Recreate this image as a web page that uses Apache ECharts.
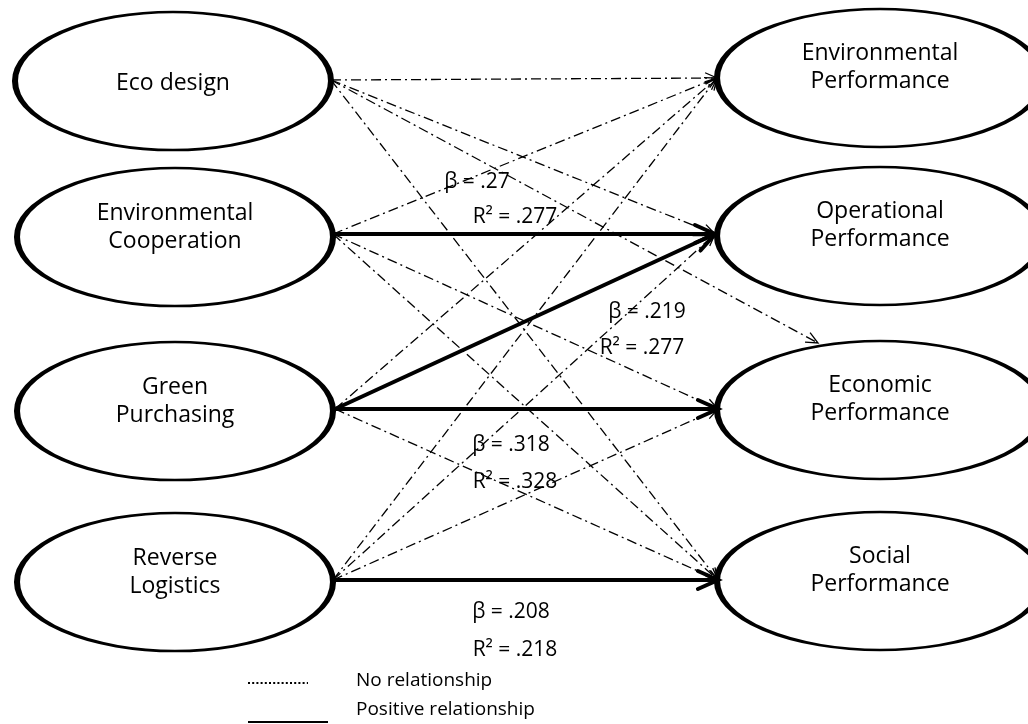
<!DOCTYPE html>
<html>
<head>
<meta charset="utf-8">
<script src="https://cdn.jsdelivr.net/npm/echarts@6/dist/echarts.min.js"></script>
<style>
  html, body { margin: 0; padding: 0; background: #fff; }
  #chart { width: 1028px; height: 724px; }
</style>
</head>
<body>
<div id="chart"></div>
<script>
// ---------- data ----------
const predictors = ['Eco design', 'Environmental\nCooperation', 'Green\nPurchasing', 'Reverse\nLogistics'];
const outcomes = ['Environmental\nPerformance', 'Operational\nPerformance', 'Economic\nPerformance', 'Social\nPerformance'];
// every predictor -> outcome path (from index, to index, significant?)
const pathFrom = [0, 0, 0, 0, 1, 1, 1, 1, 2, 2, 2, 2, 3, 3, 3, 3];
const pathTo   = [0, 1, 2, 3, 0, 1, 2, 3, 0, 1, 2, 3, 0, 1, 2, 3];
const pathSig  = [0, 0, 0, 0, 0, 1, 0, 0, 0, 1, 1, 0, 0, 0, 0, 1];
// coefficients for the significant paths (in order of appearance above)
const betaValues = ['.27', '.219', '.318', '.208'];
const r2Values = ['.277', '.277', '.328', '.218'];
const legendLabels = ['No relationship', 'Positive relationship'];

// ---------- layout (pixel space of hidden axes) ----------
const predictorCenters = [[173, 81], [175, 237], [175, 411], [175, 582]];
const outcomeCenters = [[880, 78], [880, 236], [880, 410], [880, 581]];
const predictorSize = [316, 138];
const outcomeSize = [326, 138];
const srcAnchors = [[331, 80], [333, 234], [335, 409], [333, 580]];
const tgtAnchors = [[717, 78], [715, 234], [718, 409], [718, 580]];
const endOverride = { '0-2': [818, 343] };
const betaPos = [[477, 182], [647, 312], [511, 445], [511, 612]];
const r2Pos = [[515, 217], [642, 348], [515, 482], [515, 650]];
const FONT = "'Open Sans', 'Noto Sans', sans-serif";

const chart = echarts.init(document.getElementById('chart'), null, { renderer: 'canvas' });

const nodeData = [];
predictors.forEach((n, i) => nodeData.push({
  value: [predictorCenters[i][0], predictorCenters[i][1]], name: n,
  symbolSize: predictorSize,
  label: { offset: n.indexOf('\n') >= 0 ? [0, -10] : [0, 2] }
}));
outcomes.forEach((n, i) => nodeData.push({
  value: [outcomeCenters[i][0], outcomeCenters[i][1]], name: n,
  symbolSize: outcomeSize,
  label: { offset: [0, -11] }
}));

const edgeData = pathFrom.map((f, i) => [f, pathTo[i], pathSig[i]]);

const coefData = [];
betaValues.forEach((b, i) => coefData.push({ value: betaPos[i], name: 'β = ' + b }));
r2Values.forEach((r, i) => coefData.push({ value: r2Pos[i], name: 'R² = ' + r }));

function renderEdge(params, api) {
  const f = api.value(0), t = api.value(1), sig = api.value(2);
  const s = api.coord(srcAnchors[f]);
  const key = f + '-' + t;
  const e = api.coord(endOverride[key] || tgtAnchors[t]);
  const a = Math.atan2(e[1] - s[1], e[0] - s[0]);
  const L = sig ? 22 : 13;
  const sp = 0.42;
  const lw = sig ? 4 : 1.3;
  const p1 = [e[0] - L * Math.cos(a - sp), e[1] - L * Math.sin(a - sp)];
  const p2 = [e[0] - L * Math.cos(a + sp), e[1] - L * Math.sin(a + sp)];
  const back = sig ? 3 : 0.5;
  const le = [e[0] - back * Math.cos(a), e[1] - back * Math.sin(a)];
  return {
    type: 'group',
    children: [
      {
        type: 'line',
        shape: { x1: s[0], y1: s[1], x2: le[0], y2: le[1] },
        style: { stroke: '#000', lineWidth: lw, lineDash: sig ? null : [10, 4, 2, 4], fill: null }
      },
      {
        type: 'polyline',
        shape: { points: [p1, e, p2] },
        style: { stroke: '#000', lineWidth: lw, fill: null, lineJoin: 'miter', lineCap: sig ? 'round' : 'butt' }
      }
    ]
  };
}

const option = {
  animation: false,
  backgroundColor: '#fff',
  grid: { left: 0, right: 0, top: 0, bottom: 0 },
  xAxis: { type: 'value', min: 0, max: 1028, show: false },
  yAxis: { type: 'value', min: 0, max: 724, inverse: true, show: false },
  series: [
    {
      type: 'scatter',
      z: 2,
      symbol: 'circle',
      data: nodeData,
      itemStyle: { color: '#fff', borderColor: '#000', borderWidth: 4, opacity: 1 },
      label: {
        show: true, position: 'inside', formatter: p => p.name,
        color: '#000', fontFamily: FONT, fontSize: 23, lineHeight: 28
      },
      emphasis: { disabled: true }
    },
    {
      type: 'custom',
      z: 3,
      data: edgeData,
      renderItem: renderEdge,
      silent: true
    },
    {
      type: 'scatter',
      z: 5,
      symbolSize: 0,
      data: coefData,
      itemStyle: { opacity: 1 },
      label: {
        show: true, position: 'inside', formatter: p => p.name,
        color: '#000', fontFamily: FONT, fontSize: 21
      },
      emphasis: { disabled: true }
    }
  ],
  graphic: [
    { type: 'line', shape: { x1: 248, y1: 683, x2: 308, y2: 683 },
      style: { stroke: '#000', lineWidth: 2, lineDash: [2, 2.2] } },
    { type: 'text', x: 356, y: 681,
      style: { text: legendLabels[0], fill: '#000', font: '19px ' + FONT, verticalAlign: 'middle' } },
    { type: 'line', shape: { x1: 248, y1: 722, x2: 328, y2: 722 },
      style: { stroke: '#000', lineWidth: 2 } },
    { type: 'text', x: 356, y: 710,
      style: { text: legendLabels[1], fill: '#000', font: '19px ' + FONT, verticalAlign: 'middle' } }
  ]
};
chart.setOption(option);
</script>
</body>
</html>
